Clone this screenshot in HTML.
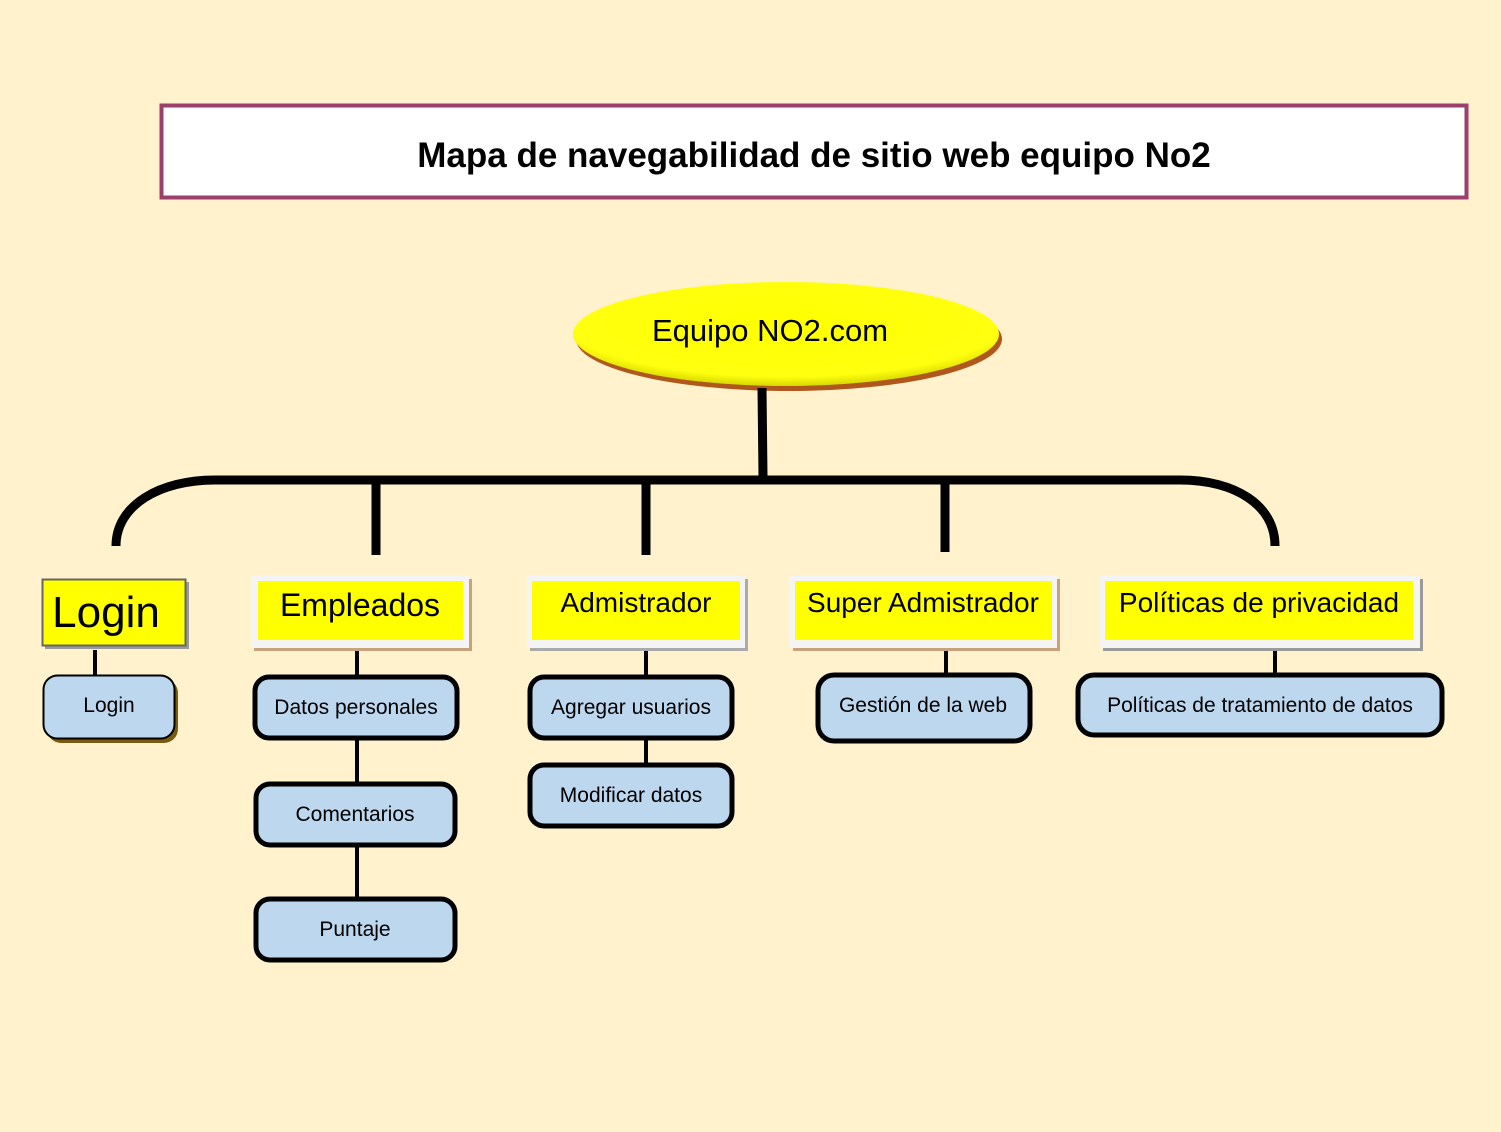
<!DOCTYPE html>
<html><head><meta charset="utf-8"><style>
html,body{margin:0;padding:0;background:#FFF2CC;}
svg{display:block;}
text{font-family:"Liberation Sans",sans-serif;}
</style></head><body>
<svg width="1501" height="1132" viewBox="0 0 1501 1132" xmlns="http://www.w3.org/2000/svg">
<defs>
<radialGradient id="yg" cx="50%" cy="40%" r="60%">
<stop offset="0" stop-color="#ffff00"/><stop offset="0.85" stop-color="#ffff10"/><stop offset="1" stop-color="#d8d800"/>
</radialGradient>
</defs>
<rect width="1501" height="1132" fill="#FFF2CC"/>
<!-- title -->
<rect x="161.5" y="105.5" width="1305" height="92" fill="#fff" stroke="#9B3F6E" stroke-width="4"/>
<text x="814" y="167" font-size="35" font-weight="bold" text-anchor="middle" fill="#000">Mapa de navegabilidad de sitio web equipo No2</text>
<!-- ellipse -->
<ellipse cx="789" cy="339" rx="213" ry="52" fill="#b0581c"/>
<ellipse cx="786" cy="334" rx="213" ry="52" fill="url(#yg)"/>
<text x="770" y="341" font-size="31" text-anchor="middle">Equipo NO2.com</text>
<!-- tree lines -->
<g stroke="#000" stroke-width="9" fill="none">
<line x1="762" y1="388" x2="763" y2="476"/>
<path d="M116 546 C116 505 160 480 215 480 L1180 480 C1235 480 1275 505 1275 546"/>
<line x1="376" y1="484" x2="376" y2="555"/>
<line x1="646" y1="484" x2="646" y2="555"/>
<line x1="945" y1="484" x2="945" y2="552"/>
</g>
<g stroke="#000" stroke-width="4">
<line x1="95" y1="650" x2="95" y2="676"/>
<line x1="357" y1="650" x2="357" y2="676"/>
<line x1="357" y1="739" x2="357" y2="782"/>
<line x1="357" y1="846" x2="357" y2="897"/>
<line x1="646" y1="650" x2="646" y2="676"/>
<line x1="646" y1="739" x2="646" y2="763"/>
<line x1="946" y1="645" x2="946" y2="673"/>
<line x1="1275" y1="650" x2="1275" y2="673"/>
</g>
<!-- yellow headers -->
<rect x="45" y="582" width="144" height="67" fill="#999"/>
<rect x="42.5" y="579.5" width="143" height="66" fill="#ffff00" stroke="#666" stroke-width="2"/>
<text x="106" y="627" font-size="44" text-anchor="middle">Login</text>

<rect x="254" y="579" width="218" height="72" fill="#c8a27a"/>
<rect x="251" y="576" width="218" height="72" fill="#f4f4f4"/>
<rect x="258" y="581" width="205" height="59" fill="#ffff00"/>
<text x="360" y="616" font-size="32" text-anchor="middle">Empleados</text>

<rect x="530" y="579" width="218" height="72" fill="#aaa"/>
<rect x="527" y="576" width="218" height="72" fill="#f4f4f4"/>
<rect x="532" y="581" width="208" height="59" fill="#ffff00"/>
<text x="636" y="612" font-size="28" text-anchor="middle">Admistrador</text>

<rect x="793" y="579" width="267" height="72" fill="#c8a27a"/>
<rect x="790" y="576" width="267" height="72" fill="#f4f4f4"/>
<rect x="795" y="581" width="257" height="59" fill="#ffff00"/>
<text x="923" y="612" font-size="28" text-anchor="middle">Super Admistrador</text>

<rect x="1103" y="579" width="320" height="72" fill="#9a9a9a"/>
<rect x="1100" y="576" width="320" height="72" fill="#f4f4f4"/>
<rect x="1105" y="581" width="308" height="59" fill="#ffff00"/>
<text x="1259" y="612" font-size="28" text-anchor="middle">Políticas de privacidad</text>

<!-- blue boxes -->
<rect x="47" y="679" width="131" height="64" rx="14" fill="#7a5a10"/>
<rect x="43.5" y="675.5" width="131" height="63" rx="14" fill="#BDD7EE" stroke="#000" stroke-width="2"/>
<text x="109" y="712" font-size="21" text-anchor="middle">Login</text>

<g fill="#BDD7EE" stroke="#000" stroke-width="5">
<rect x="255" y="677" width="202" height="61" rx="14"/>
<rect x="256" y="784" width="199" height="61" rx="14"/>
<rect x="256" y="899" width="199" height="61" rx="14"/>
<rect x="530" y="677" width="202" height="61" rx="14"/>
<rect x="530" y="765" width="202" height="61" rx="14"/>
<rect x="818" y="675" width="212" height="66" rx="16"/>
<rect x="1078" y="675" width="364" height="60" rx="16"/>
</g>
<g font-size="21" text-anchor="middle">
<text x="356" y="714">Datos personales</text>
<text x="355" y="821">Comentarios</text>
<text x="355" y="936">Puntaje</text>
<text x="631" y="714">Agregar usuarios</text>
<text x="631" y="802">Modificar datos</text>
<text x="923" y="712">Gestión de la web</text>
<text x="1260" y="712">Políticas de tratamiento de datos</text>
</g>
</svg>
</body></html>
